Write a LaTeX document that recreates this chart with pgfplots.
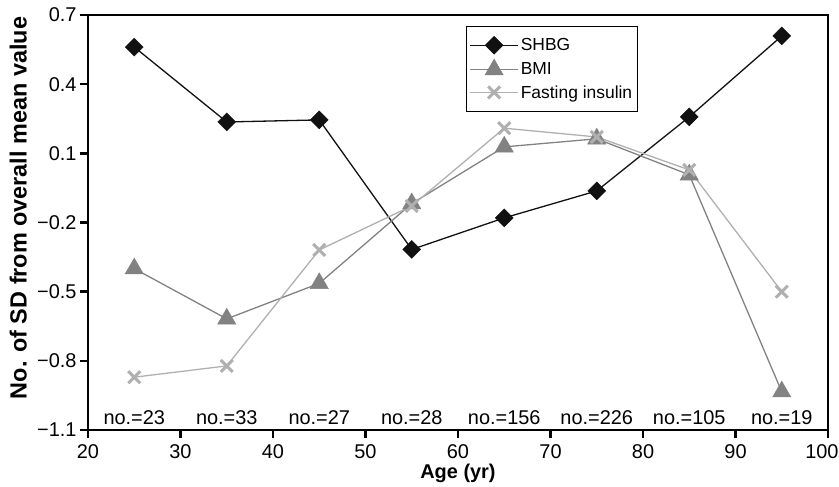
\documentclass[border=0pt]{standalone}
\usepackage{fontspec}
\setmainfont{Liberation Sans}
\usepackage{pgfplots}
\pgfplotsset{compat=1.18}

\definecolor{shbg}{HTML}{111111}
\definecolor{bmi}{HTML}{828282}
\definecolor{ins}{HTML}{B0B0B0}

\pgfplotsset{
  legline/.style={
    legend image code/.code={
      \draw[mark repeat=2, mark phase=2, ##1] plot coordinates {(0bp,0bp) (24bp,0bp) (48bp,0bp)};
    }
  }
}

\begin{document}
\begin{tikzpicture}
\begin{axis}[name=ax, scale only axis, width=740bp, height=415bp,
  xmin=20, xmax=100, ymin=-1.1, ymax=0.7,
  xtick={20,30,...,100},
  xticklabels={20,30,40,50,60,70,80,90,\makebox[21bp][r]{100}},
  ytick={-1.1,-0.8,-0.5,-0.2,0.1,0.4,0.7},
  yticklabels={−1.1,−0.8,−0.5,−0.2,0.1,0.4,0.7},
  axis line style={line width=2.5bp, black},
  tick style={line width=2.5bp, black}, major tick length=8bp, tick align=outside,
  tick pos=left,
  /pgf/number format/assume math mode=true,
  tick label style={font=\fontsize{20}{24}\selectfont},
  xticklabel style={yshift=-3bp},
  xlabel={\bfseries Age (yr)},
  ylabel={\bfseries No. of SD from overall mean value},
  xlabel style={font=\fontsize{20}{24}\selectfont, at={(axis description cs:0.5,-0.117)}, anchor=base, inner sep=0pt},
  ylabel style={font=\fontsize{23.5}{27}\selectfont, at={(axis description cs:-0.0824,0.535)}, anchor=south, inner sep=0pt},
  legline,
  legend style={at={(axis description cs:0.511,0.9735)}, anchor=north west, yshift=0bp,
    draw=black, line width=0.7pt, font=\fontsize{17.5}{21}\selectfont,
    inner xsep=3bp, inner ysep=10bp, row sep=5bp, cells={anchor=west}},
  clip=false,
]
\addplot[shbg, line width=1.3bp, mark=square*, mark size=6.3bp,
  mark options={rotate=45, fill=shbg, draw=shbg, line width=0.5bp}]
  coordinates {(25,0.561)(35,0.236)(45,0.245)(55,-0.317)(65,-0.180)(75,-0.063)(85,0.258)(95,0.609)};
\addlegendentry{SHBG}
\addplot[bmi, line width=1.3bp, mark=triangle*, mark size=10.5bp,
  mark options={fill=bmi, draw=bmi, line width=0.5bp}]
  coordinates {(25,-0.400)(35,-0.618)(45,-0.464)(55,-0.118)(65,0.128)(75,0.163)(85,0.007)(95,-0.934)};
\addlegendentry{BMI}
\addplot[ins, line width=1.3bp, mark=x, mark size=8.5bp,
  mark options={draw=ins, line width=3bp}]
  coordinates {(25,-0.871)(35,-0.822)(45,-0.319)(55,-0.128)(65,0.209)(75,0.171)(85,0.028)(95,-0.500)};
\addlegendentry{Fasting insulin}
\foreach \xx/\nn in {25/23,35/33,45/27,55/28,65/156,75/226,85/105,95/19} {
  \edef\tmp{\noexpand\node[anchor=base, inner sep=0pt, font=\noexpand\fontsize{20}{24}\noexpand\selectfont] at (axis cs:\xx,-1.078) {no.=\nn};}
  \tmp
}
\end{axis}
\pgfresetboundingbox
\useasboundingbox ([xshift=-88bp,yshift=-57bp]ax.south west) rectangle ([xshift=11bp,yshift=15bp]ax.north east);
\end{tikzpicture}
\end{document}
